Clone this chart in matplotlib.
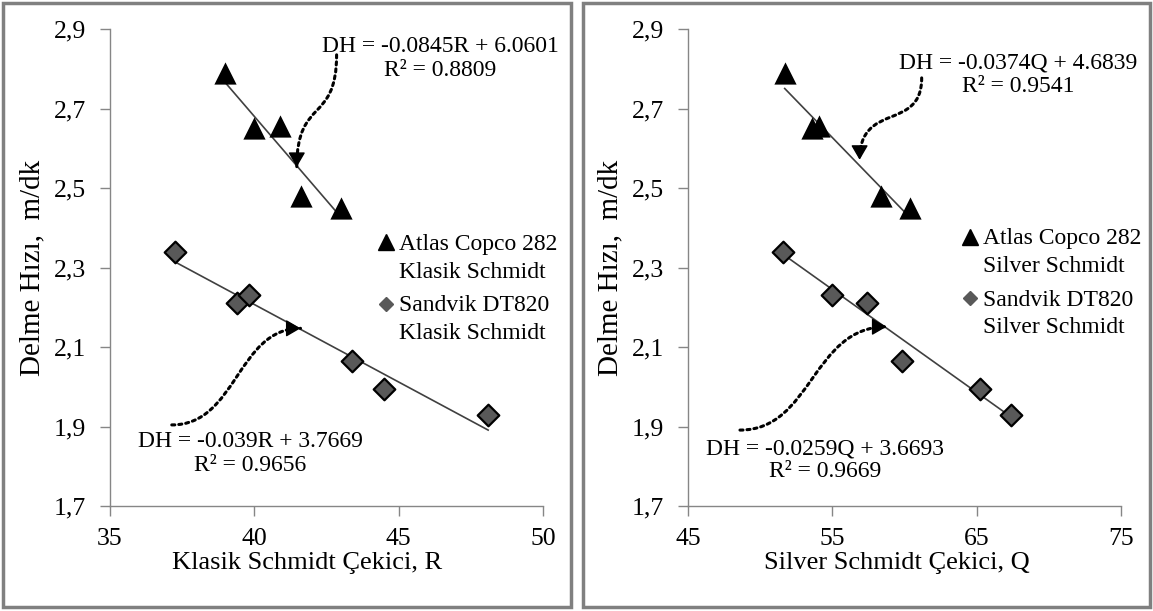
import matplotlib
matplotlib.use("Agg")
import matplotlib.pyplot as plt
from matplotlib.patches import FancyArrowPatch, Rectangle
from matplotlib.path import Path
from matplotlib.lines import Line2D
import numpy as np

plt.rcParams['font.family'] = ['Liberation Serif', 'DejaVu Serif']

# ---- data ----
y_atlas = [2.79, 2.65, 2.655, 2.48, 2.45]
x_atlas_R = [39.0, 40.0, 40.9, 41.6, 43.0]
x_atlas_Q = [51.7, 53.6, 54.1, 58.4, 60.35]

y_sandvik = [2.34, 2.21, 2.23, 2.065, 1.995, 1.93]
x_sandvik_R = [37.25, 39.4, 39.8, 43.4, 44.5, 48.1]
y_sandvik_Q = [2.34, 2.23, 2.21, 2.065, 1.995, 1.93]
x_sandvik_Q = [51.6, 55.0, 57.4, 59.8, 65.2, 67.4]

fit_atlas_R = (-0.0845, 6.0601, 0.8809)
fit_sandvik_R = (-0.039, 3.7669, 0.9656)
fit_atlas_Q = (-0.0374, 4.6839, 0.9541)
fit_sandvik_Q = (-0.0259, 3.6693, 0.9669)

yticks = [1.7, 1.9, 2.1, 2.3, 2.5, 2.7, 2.9]
yticklabels = ['1,7', '1,9', '2,1', '2,3', '2,5', '2,7', '2,9']
xticks_R = [35, 40, 45, 50]
xticks_Q = [45, 55, 65, 75]

fig = plt.figure(figsize=(11.53, 6.11), dpi=100)

W, H = 1153, 611
def fx(px):
    return px / W
def fy(py):
    return 1 - py / H

# panel borders
for (x0, x1) in [(3, 571), (583, 1150)]:
    fig.patches.append(Rectangle((fx(x0), fy(607)), fx(x1) - fx(x0), fy(3) - fy(607),
                                 transform=fig.transFigure, fill=False,
                                 edgecolor='#808080', linewidth=2.5, zorder=0))

axL = fig.add_axes([fx(110), fy(506), fx(543) - fx(110), fy(29) - fy(506)])
axR = fig.add_axes([fx(688), fy(506), fx(1121) - fx(688), fy(29) - fy(506)])

tri_kw = dict(marker='^', s=16**2, color='black', linewidths=0, zorder=3)
dia_kw = dict(marker='D', s=11**2, facecolor='#595959', edgecolor='black', linewidths=1.6, zorder=3)

def trend(ax, xs, fit):
    a, b, _ = fit
    xx = np.array([min(xs), max(xs)])
    ax.plot(xx, a * xx + b, color='#404040', lw=1.2, zorder=2)

def curved_arrow(ax, start, c1, c2, end):
    path = Path([start, c1, c2, end], [Path.MOVETO, Path.CURVE4, Path.CURVE4, Path.CURVE4])
    p = FancyArrowPatch(path=path, arrowstyle='-', color='black', lw=2.2,
                        linestyle=(0, (1, 1.3)), zorder=4, clip_on=False)
    ax.add_patch(p)
    # solid head along the end tangent
    c2a, enda = np.array(c2), np.array(end)
    tail = enda - 0.1 * (enda - c2a)
    head = FancyArrowPatch(posA=tuple(tail), posB=end,
                           arrowstyle='-|>,head_length=0.6,head_width=0.35',
                           mutation_scale=15, color='black', lw=1.0,
                           shrinkA=0, shrinkB=0, zorder=4, clip_on=False)
    ax.add_patch(head)

def eq_text(ax, x, y, fit, var):
    a, b, r2 = fit
    ax.text(x, y, f"DH = {a}{var} + {b:.4f}\nR² = {r2:.4f}", ha='center', va='center',
            fontsize=17, linespacing=1.15, clip_on=False, zorder=5)

def style(ax, xlim, xticks, xlabel, xlabel_pos):
    ax.set_xlim(*xlim)
    ax.set_ylim(1.7, 2.9)
    ax.set_xticks(xticks)
    ax.set_yticks(yticks)
    ax.set_yticklabels(yticklabels)
    for s in ['top', 'right']:
        ax.spines[s].set_visible(False)
    for s in ['left', 'bottom']:
        ax.spines[s].set_color('#868686')
        ax.spines[s].set_linewidth(1.0)
    ax.tick_params(direction='out', length=7, width=1.0, color='#868686',
                   labelsize=18.5)
    ax.tick_params(axis='x', pad=9)
    ax.tick_params(axis='y', pad=10)
    ax.set_xlabel(xlabel, fontsize=19, labelpad=1)
    ax.xaxis.label.set_x(xlabel_pos)
    ax.set_ylabel('Delme Hızı,  m/dk', fontsize=21, labelpad=6)
    ax.set_facecolor('none')

# left panel
axL.scatter(x_atlas_R, y_atlas, label='Atlas Copco 282\nKlasik Schmidt', **tri_kw)
axL.scatter(x_sandvik_R, y_sandvik, label='Sandvik DT820\nKlasik Schmidt', **dia_kw)
trend(axL, x_atlas_R, fit_atlas_R)
trend(axL, x_sandvik_R, fit_sandvik_R)
style(axL, (35, 50), xticks_R, 'Klasik Schmidt Çekici, R', 0.455)
eq_text(axL, 46.43, 2.826, fit_atlas_R, 'R')
eq_text(axL, 39.85, 1.832, fit_sandvik_R, 'R')
curved_arrow(axL, (42.85, 2.835), (42.85, 2.66), (41.47, 2.73), (41.47, 2.553))
curved_arrow(axL, (37.14, 1.904), (39.4, 1.904), (39.4, 2.147), (41.6, 2.147))

# right panel
axR.scatter(x_atlas_Q, y_atlas, label='Atlas Copco 282\nSilver Schmidt', **tri_kw)
axR.scatter(x_sandvik_Q, y_sandvik_Q, label='Sandvik DT820\nSilver Schmidt', **dia_kw)
trend(axR, x_atlas_Q, fit_atlas_Q)
trend(axR, x_sandvik_Q, fit_sandvik_Q)
style(axR, (45, 75), xticks_Q, 'Silver Schmidt Çekici, Q', 0.483)
eq_text(axR, 67.9, 2.785, fit_atlas_Q, 'Q')
eq_text(axR, 54.49, 1.815, fit_sandvik_Q, 'Q')
curved_arrow(axR, (61.19, 2.777), (61.19, 2.64), (56.89, 2.72), (56.89, 2.571))
curved_arrow(axR, (48.6, 1.891), (53.6, 1.891), (53.6, 2.151), (58.75, 2.151))

def legend(ax, anchor):
    h1 = Line2D([], [], marker='^', ls='none', color='black', markersize=11)
    h2 = Line2D([], [], marker='D', ls='none', markerfacecolor='#595959',
                markeredgecolor='#595959', markersize=7.5)
    labels = [t.get_label() for t in ax.collections[:2]]
    leg = ax.legend([h1, h2], labels, loc='upper left', bbox_to_anchor=anchor,
                    frameon=False, fontsize=17, handlelength=0.6, handletextpad=0.25,
                    borderaxespad=0, borderpad=0, labelspacing=0.55, handleheight=0.7)
    for t in leg.get_texts():
        t.set_linespacing(1.4)
    try:
        for col in leg._legend_handle_box.get_children():
            for hp in col.get_children():
                hp.align = 'top'
    except Exception:
        pass

legend(axL, (0.62, 0.570))
legend(axR, (0.635, 0.582))

fig.savefig('out.png', dpi=100)
